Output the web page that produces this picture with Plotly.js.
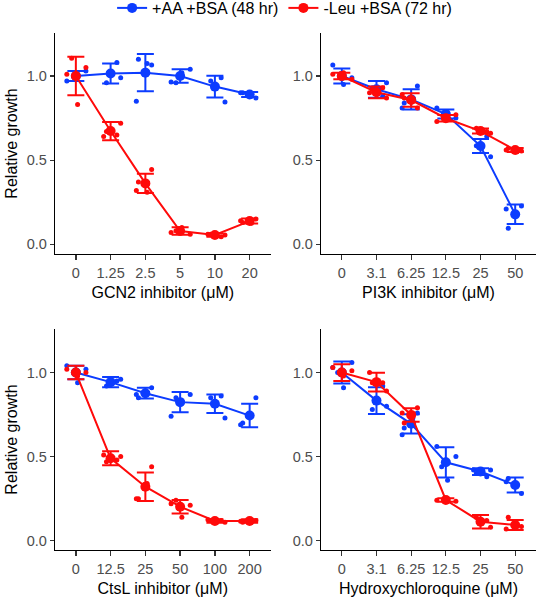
<!DOCTYPE html>
<html>
<head>
<meta charset="utf-8">
<script src="https://cdn.plot.ly/plotly-3.0.1.min.js"></script>
<style>html,body{margin:0;padding:0;background:#fff}#chart{width:537px;height:600px}</style>
</head>
<body>
<div id="chart"></div>
<script>
// ---- categories (tick labels) ----
const gcn2Cats = ['0', '1.25', '2.5', '5', '10', '20'];
const pi3kCats = ['0', '3.1', '6.25', '12.5', '25', '50'];
const ctslCats = ['0', '12.5', '25', '50', '100', '200'];
const hcqCats  = ['0', '3.1', '6.25', '12.5', '25', '50'];

// ---- series names ----
const seriesAA  = '+AA +BSA (48 hr)';
const seriesLeu = '-Leu +BSA (72 hr)';

// ---- GCN2 inhibitor ----
const gcn2AAMean = [1.00, 1.015, 1.02, 1.00, 0.937, 0.89];
const gcn2AAErr  = [0.03, 0.06, 0.11, 0.04, 0.065, 0.015];
const gcn2AAReps = [[0.97, 1.01, 1.03], [0.99, 0.96, 1.08], [1.065, 1.10, 0.85, 1.075], [0.965, 1.02, 1.04, 0.96], [0.845, 0.97, 0.99], [0.87, 0.90, 0.90, 0.88]];
const gcn2LeuMean = [1.00, 0.673, 0.362, 0.079, 0.055, 0.138];
const gcn2LeuErr  = [0.115, 0.054, 0.057, 0.022, 0.01, 0.015];
const gcn2LeuReps = [[1.01, 0.83, 1.05, 1.105], [0.72, 0.67, 0.65, 0.64], [0.445, 0.37, 0.32, 0.31], [0.07, 0.10, 0.06, 0.08], [0.055, 0.06, 0.045, 0.06], [0.15, 0.13, 0.14, 0.125]];

// ---- PI3K inhibitor ----
const pi3kAAMean = [1.00, 0.921, 0.861, 0.774, 0.584, 0.178];
const pi3kAAErr  = [0.045, 0.05, 0.06, 0.027, 0.042, 0.058];
const pi3kAAReps = [[1.065, 0.95, 0.99], [0.96, 0.93, 0.88], [0.94, 0.84, 0.81], [0.81, 0.76, 0.75], [0.52, 0.585, 0.64], [0.228, 0.095, 0.21]];
const pi3kLeuMean = [1.00, 0.903, 0.857, 0.749, 0.673, 0.56];
const pi3kLeuErr  = [0.02, 0.035, 0.04, 0.02, 0.015, 0.012];
const pi3kLeuReps = [[1.01, 1.02, 0.98], [0.87, 0.92, 0.93, 0.90], [0.81, 0.87, 0.89, 0.86], [0.73, 0.75, 0.77], [0.66, 0.69, 0.67], [0.555, 0.57, 0.56, 0.55]];

// ---- CtsL inhibitor ----
const ctslAAMean = [1.00, 0.943, 0.877, 0.824, 0.814, 0.744];
const ctslAAErr  = [0.04, 0.03, 0.032, 0.06, 0.055, 0.07];
const ctslAAReps = [[1.04, 0.94, 1.02], [0.96, 0.92, 0.95], [0.91, 0.85, 0.87, 0.88], [0.74, 0.83, 0.87, 0.85], [0.73, 0.85, 0.86], [0.85, 0.70, 0.69]];
const ctslLeuMean = [1.00, 0.49, 0.321, 0.202, 0.117, 0.117];
const ctslLeuErr  = [0.04, 0.042, 0.085, 0.04, 0.01, 0.01];
const ctslLeuReps = [[1.02, 0.98, 1.00], [0.50, 0.47, 0.48, 0.51], [0.44, 0.25, 0.25, 0.34], [0.22, 0.14, 0.21, 0.24], [0.11, 0.12, 0.12, 0.125], [0.12, 0.11, 0.115]];

// ---- Hydroxychloroquine ----
const hcqAAMean = [1.00, 0.833, 0.695, 0.466, 0.411, 0.331];
const hcqAAErr  = [0.065, 0.08, 0.057, 0.09, 0.02, 0.045];
const hcqAAReps = [[1.03, 0.91, 1.06, 1.00], [0.80, 0.78, 0.92], [0.76, 0.67, 0.63, 0.73], [0.56, 0.36, 0.50, 0.44], [0.42, 0.40, 0.38, 0.42], [0.28, 0.37, 0.35]];
const hcqLeuMean = [1.00, 0.943, 0.748, 0.242, 0.113, 0.093];
const hcqLeuErr  = [0.05, 0.056, 0.04, 0.01, 0.04, 0.03];
const hcqLeuReps = [[1.03, 0.98, 1.01], [0.89, 0.94, 0.94, 1.00], [0.79, 0.70, 0.76], [0.24, 0.25, 0.235], [0.08, 0.14, 0.12], [0.085, 0.14, 0.07]];

// ---- axis titles ----
const xTitles = ['GCN2 inhibitor (\u03bcM)', 'PI3K inhibitor (\u03bcM)', 'CtsL inhibitor (\u03bcM)', 'Hydroxychloroquine (\u03bcM)'];
const yTitle = 'Relative growth';

// jitter pattern (horizontal spread of replicate dots, category units)
const jitterPattern = [-0.26, 0.05, 0.29, -0.12, 0.18, -0.2];

const BLUE = '#0c3cff';
const RED = '#ff0a0a';
const FONT = 'Liberation Sans, Arial, sans-serif';

const panels = [
  {cats: gcn2Cats, aa: [gcn2AAMean, gcn2AAErr, gcn2AAReps], leu: [gcn2LeuMean, gcn2LeuErr, gcn2LeuReps]},
  {cats: pi3kCats, aa: [pi3kAAMean, pi3kAAErr, pi3kAAReps], leu: [pi3kLeuMean, pi3kLeuErr, pi3kLeuReps]},
  {cats: ctslCats, aa: [ctslAAMean, ctslAAErr, ctslAAReps], leu: [ctslLeuMean, ctslLeuErr, ctslLeuReps]},
  {cats: hcqCats,  aa: [hcqAAMean, hcqAAErr, hcqAAReps],   leu: [hcqLeuMean, hcqLeuErr, hcqLeuReps]}
];

const traces = [];
panels.forEach((p, pi) => {
  const xa = pi === 0 ? 'x' : 'x' + (pi + 1);
  const ya = pi === 0 ? 'y' : 'y' + (pi + 1);
  [[p.aa, BLUE, seriesAA], [p.leu, RED, seriesLeu]].forEach(([s, col, name]) => {
    const [mean, err, reps] = s;
    const rx = [], ry = [];
    reps.forEach((arr, ci) => {
      arr.forEach((v, ri) => {
        rx.push(ci + jitterPattern[(ri + ci * 2) % jitterPattern.length]);
        ry.push(v);
      });
    });
    traces.push({
      x: rx, y: ry, xaxis: xa, yaxis: ya, type: 'scatter', mode: 'markers',
      marker: {color: col, size: 5}, showlegend: false, hoverinfo: 'skip'
    });
    traces.push({
      x: p.cats.map((c, i) => i), y: mean, xaxis: xa, yaxis: ya, type: 'scatter',
      mode: 'lines+markers', name: name, legendgroup: name,
      showlegend: pi === 0,
      line: {color: col, width: 2},
      marker: {color: col, size: 10},
      error_y: {type: 'data', array: err, visible: true, color: col, thickness: 2, width: 8.5}
    });
  });
});

const W = 537, H = 600;
const xDomL = [55 / W, 270.5 / W];
const xDomR = [321 / W, 536 / W];
const yDomT = [(H - 254) / H, (H - 33) / H];
const yDomB = [(H - 550) / H, (H - 329) / H];

function xax(dom, cats, title, anchor) {
  return {
    domain: dom, anchor: anchor, range: [-0.6, 5.6], tickvals: cats.map((c, i) => i), ticktext: cats,
    showgrid: false, zeroline: false, showline: true, linecolor: '#000', linewidth: 1.3,
    ticks: 'outside', ticklen: 5, tickwidth: 1.3, tickcolor: '#333',
    tickfont: {family: FONT, size: 14.5, color: '#4d4d4d'},
    title: {text: title, font: {family: FONT, size: 16, color: '#000'}, standoff: 7},
    automargin: false, fixedrange: true
  };
}
function yax(dom, anchor, showTitle, rng) {
  return {
    domain: dom, anchor: anchor, range: rng, tickvals: [0, 0.5, 1], ticktext: ['0.0', '0.5', '1.0'],
    showgrid: false, zeroline: false, showline: true, linecolor: '#000', linewidth: 1.3,
    ticks: 'outside', ticklen: 4, tickwidth: 1.3, tickcolor: '#333',
    tickfont: {family: FONT, size: 14.5, color: '#4d4d4d'},
    title: showTitle ? {text: yTitle, font: {family: FONT, size: 16, color: '#000'}, standoff: 5} : {text: ''},
    automargin: false, fixedrange: true
  };
}

const rTop = [-0.0576, 1.2555];
const rBot = [-0.0555, 1.259];

const layout = {
  width: W, height: H,
  margin: {l: 0, r: 0, t: 0, b: 0, autoexpand: false},
  paper_bgcolor: '#fff', plot_bgcolor: '#fff',
  showlegend: true,
  legend: {orientation: 'h', x: 0.53, xanchor: 'center', y: 1.015, yanchor: 'top',
           font: {family: FONT, size: 16, color: '#000'}, itemwidth: 30, traceorder: 'normal'},
  xaxis: xax(xDomL, gcn2Cats, xTitles[0], 'y'),
  yaxis: yax(yDomT, 'x', true, rTop),
  xaxis2: xax(xDomR, pi3kCats, xTitles[1], 'y2'),
  yaxis2: yax(yDomT, 'x2', false, rTop),
  xaxis3: xax(xDomL, ctslCats, xTitles[2], 'y3'),
  yaxis3: yax(yDomB, 'x3', true, rBot),
  xaxis4: xax(xDomR, hcqCats, xTitles[3], 'y4'),
  yaxis4: yax(yDomB, 'x4', false, rBot)
};

Plotly.newPlot('chart', traces, layout, {displayModeBar: false, staticPlot: true});
</script>
</body>
</html>
